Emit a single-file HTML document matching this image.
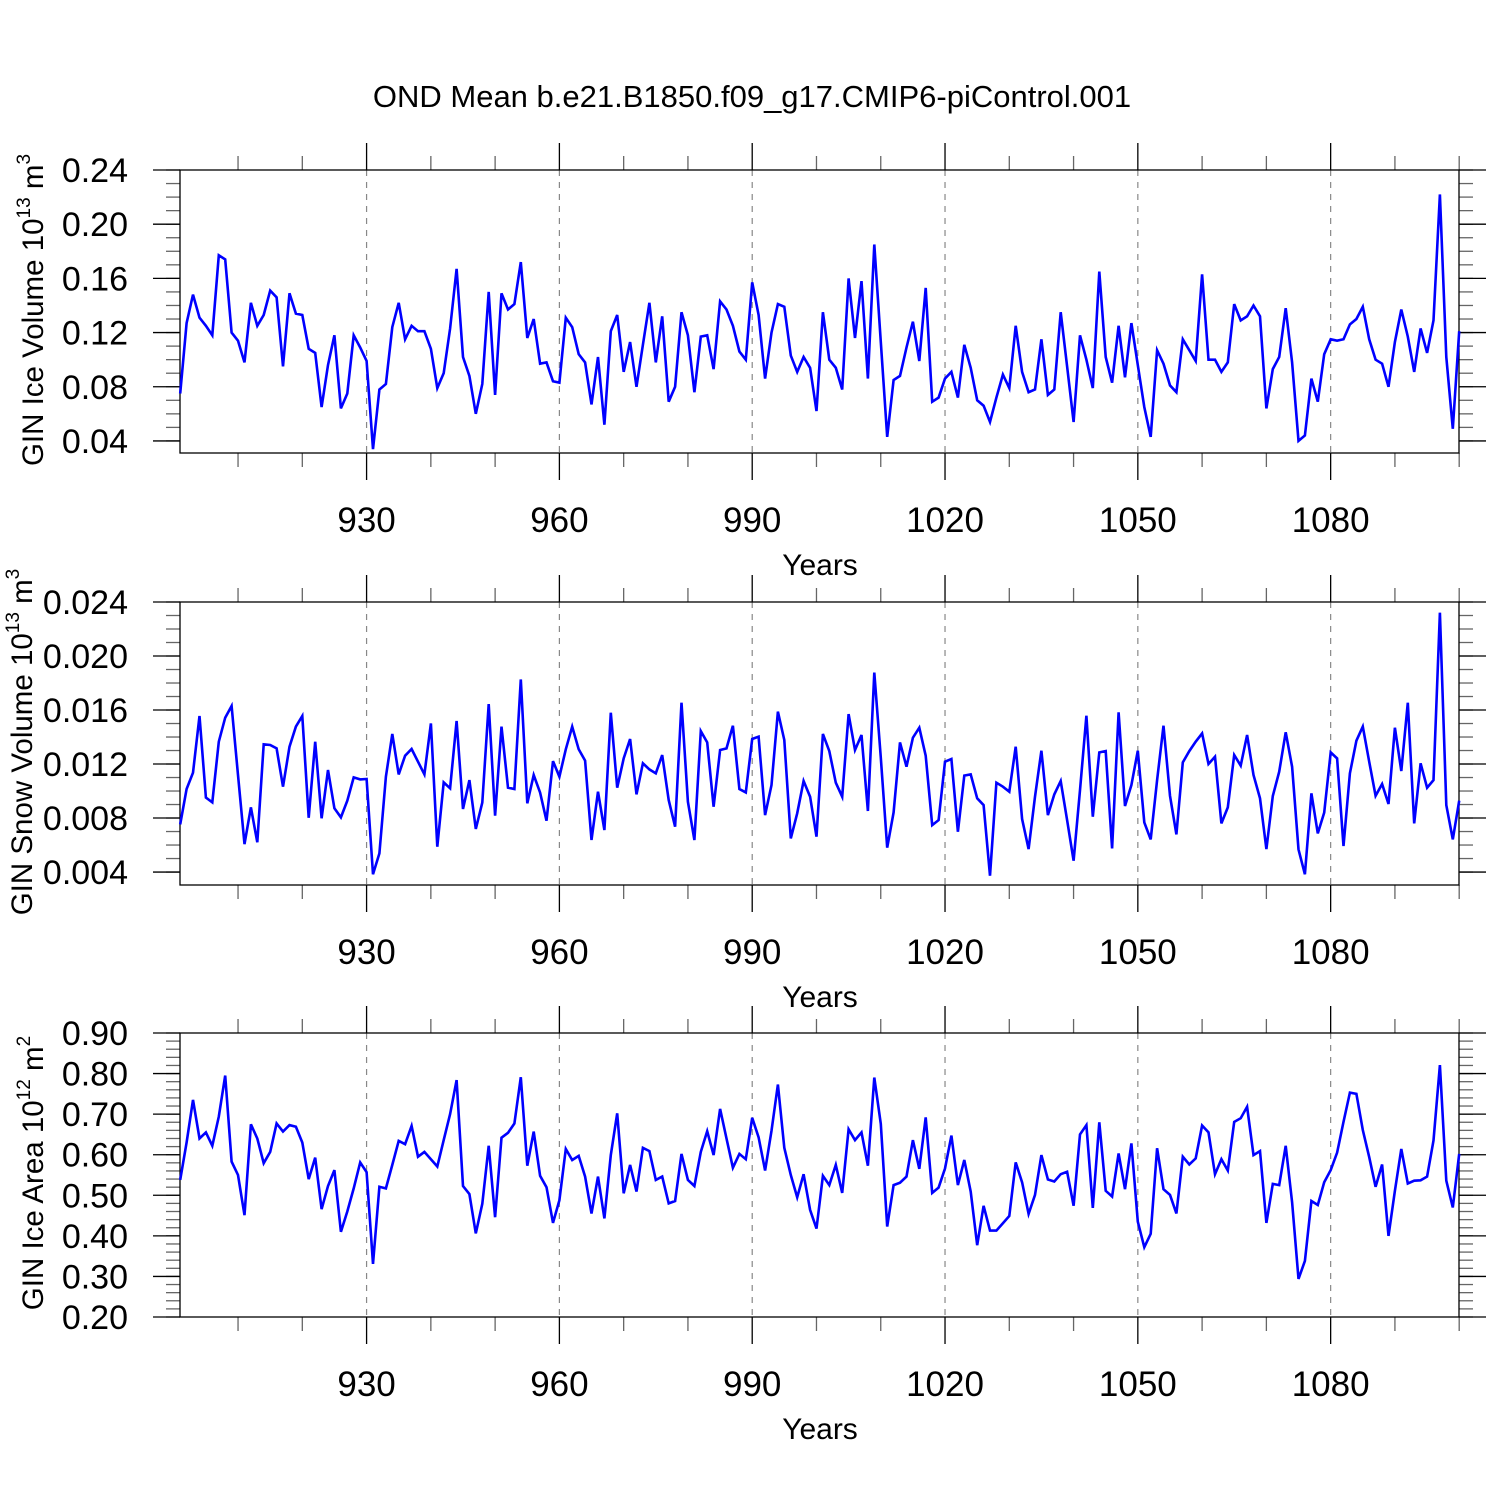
<!DOCTYPE html>
<html><head><meta charset="utf-8"><style>
html,body{margin:0;padding:0;background:#fff;}
svg{display:block;font-family:"Liberation Sans",Helvetica,Arial,sans-serif;}
</style></head><body>
<svg id="chart" width="1500" height="1500" viewBox="0 0 1500 1500" xmlns="http://www.w3.org/2000/svg">
<rect width="1500" height="1500" fill="#fff"/>
<text x="752" y="107" font-size="31" text-anchor="middle" fill="#000">OND Mean b.e21.B1850.f09_g17.CMIP6-piControl.001</text>
</svg>
<script>
const startYear = 901;
const xMajorTicks = [930, 960, 990, 1020, 1050, 1080];
const iceVolume = [0.075,0.127,0.148,0.131,0.125,0.118,0.177,0.174,0.120,0.114,0.098,0.142,0.125,0.133,0.151,0.146,0.095,0.149,0.134,0.133,0.108,0.105,0.065,0.096,0.118,0.064,0.075,0.118,0.109,0.099,0.034,0.078,0.082,0.124,0.142,0.115,0.125,0.121,0.121,0.108,0.079,0.090,0.123,0.167,0.102,0.088,0.060,0.082,0.150,0.074,0.149,0.137,0.141,0.172,0.116,0.130,0.097,0.098,0.084,0.083,0.131,0.124,0.104,0.098,0.067,0.102,0.052,0.121,0.133,0.091,0.113,0.080,0.111,0.142,0.098,0.132,0.069,0.080,0.135,0.118,0.076,0.117,0.118,0.093,0.143,0.137,0.125,0.106,0.100,0.157,0.133,0.086,0.120,0.141,0.139,0.103,0.091,0.102,0.094,0.062,0.135,0.100,0.094,0.078,0.160,0.116,0.158,0.086,0.185,0.113,0.043,0.085,0.088,0.109,0.128,0.099,0.153,0.069,0.072,0.086,0.091,0.072,0.111,0.094,0.070,0.066,0.054,0.072,0.089,0.079,0.125,0.091,0.076,0.078,0.115,0.074,0.078,0.135,0.095,0.054,0.118,0.100,0.079,0.165,0.102,0.083,0.125,0.087,0.127,0.096,0.065,0.043,0.107,0.097,0.081,0.076,0.115,0.107,0.099,0.163,0.100,0.100,0.091,0.098,0.141,0.129,0.132,0.140,0.132,0.064,0.093,0.102,0.138,0.098,0.040,0.044,0.086,0.069,0.104,0.115,0.114,0.115,0.126,0.130,0.139,0.115,0.100,0.097,0.080,0.113,0.137,0.117,0.091,0.123,0.105,0.129,0.222,0.102,0.049,0.121];
const snowVolumeE3 = [7.53,10.15,11.36,15.56,9.51,9.16,13.65,15.43,16.30,11.19,6.07,8.79,6.20,13.46,13.41,13.16,10.32,13.28,14.77,15.56,8.02,13.65,7.98,11.56,8.72,8.05,9.28,11.01,10.86,10.89,3.83,5.38,11.06,14.22,11.23,12.62,13.11,12.17,11.23,15.01,5.88,10.64,10.20,15.19,8.67,10.81,7.19,9.14,16.44,8.17,14.77,10.25,10.15,18.27,9.09,11.19,9.88,7.80,12.22,11.06,13.09,14.77,13.09,12.25,6.37,9.95,7.11,15.80,10.25,12.42,13.85,9.75,12.05,11.60,11.31,12.67,9.33,7.36,16.54,9.21,6.37,14.44,13.60,8.84,13.04,13.16,14.84,10.15,9.90,13.85,14.02,8.22,10.44,15.88,13.78,6.49,8.35,10.74,9.58,6.62,14.22,12.96,10.62,9.58,15.70,13.04,14.15,8.52,18.77,12.47,5.80,8.42,13.60,11.80,13.95,14.69,12.62,7.48,7.85,12.17,12.37,6.99,11.14,11.23,9.46,8.96,3.73,10.62,10.32,9.95,13.28,7.93,5.70,9.58,12.99,8.22,9.75,10.74,7.85,4.84,10.07,15.58,8.10,12.86,12.96,5.75,15.83,8.89,10.44,12.99,7.68,6.42,10.81,14.84,9.65,6.79,12.12,12.96,13.65,14.27,12.00,12.54,7.60,8.79,12.67,11.88,14.15,11.19,9.46,5.70,9.63,11.43,14.35,11.80,5.68,3.83,9.83,6.86,8.40,12.86,12.42,5.93,11.31,13.73,14.77,12.17,9.65,10.52,9.04,14.69,11.48,16.54,7.60,12.05,10.25,10.81,23.21,8.96,6.42,9.28];
const snowVolume = snowVolumeE3.map(v => v / 1000);
const iceArea = [0.538,0.630,0.735,0.640,0.655,0.622,0.694,0.795,0.583,0.550,0.451,0.675,0.640,0.579,0.607,0.677,0.657,0.673,0.669,0.630,0.540,0.593,0.466,0.523,0.562,0.410,0.460,0.517,0.581,0.557,0.331,0.521,0.517,0.575,0.634,0.626,0.671,0.595,0.607,0.589,0.571,0.636,0.700,0.784,0.523,0.503,0.406,0.479,0.622,0.446,0.642,0.654,0.677,0.791,0.573,0.657,0.548,0.520,0.432,0.488,0.614,0.587,0.597,0.546,0.455,0.546,0.443,0.599,0.702,0.505,0.575,0.509,0.617,0.609,0.538,0.546,0.480,0.486,0.602,0.538,0.523,0.607,0.658,0.599,0.713,0.640,0.568,0.602,0.589,0.691,0.643,0.561,0.659,0.773,0.617,0.550,0.495,0.552,0.464,0.418,0.548,0.525,0.575,0.506,0.663,0.636,0.655,0.573,0.790,0.676,0.423,0.525,0.531,0.546,0.636,0.565,0.692,0.506,0.519,0.566,0.647,0.525,0.587,0.509,0.377,0.474,0.413,0.413,0.431,0.449,0.581,0.532,0.454,0.501,0.599,0.539,0.534,0.552,0.558,0.474,0.650,0.673,0.469,0.680,0.511,0.497,0.603,0.515,0.628,0.435,0.372,0.405,0.616,0.515,0.501,0.455,0.595,0.576,0.591,0.672,0.655,0.552,0.589,0.561,0.681,0.690,0.718,0.599,0.609,0.432,0.528,0.525,0.622,0.483,0.294,0.338,0.486,0.476,0.532,0.562,0.605,0.681,0.753,0.750,0.661,0.594,0.521,0.576,0.400,0.511,0.614,0.529,0.536,0.537,0.546,0.635,0.821,0.536,0.470,0.602];
const p1Ticks = ["0.04","0.08","0.12","0.16","0.20","0.24"];
const p2Ticks = ["0.004","0.008","0.012","0.016","0.020","0.024"];
const p3Ticks = ["0.20","0.30","0.40","0.50","0.60","0.70","0.80","0.90"];

const NS = "http://www.w3.org/2000/svg";
const svg = document.getElementById("chart");
const X0 = 180, X1 = 1459, yr0 = startYear - 0.03, yr1 = 1099.97;
function xScale(yr){ return X0 + (yr - yr0) / (yr1 - yr0) * (X1 - X0); }
function mk(tag, attrs, parent){ const e = document.createElementNS(NS, tag); for (const k in attrs) e.setAttribute(k, attrs[k]); (parent||svg).appendChild(e); return e; }

const panels = [
 {key:"ice-volume", data:iceVolume, top:170, bot:453, vmin:0.0311, vmax:0.24, ticks:p1Ticks, minorStep:0.01, minorStart:0.04, title:["GIN Ice Volume 10","13"," m","3"], tx:33, ty:310},
 {key:"snow-volume", data:snowVolume, top:602, bot:885, vmin:0.00304, vmax:0.024, ticks:p2Ticks, minorStep:0.001, minorStart:0.004, title:["GIN Snow Volume 10","13"," m","3"], tx:22, ty:742},
 {key:"ice-area", data:iceArea, top:1033, bot:1317, vmin:0.20, vmax:0.90, ticks:p3Ticks, minorStep:0.02, minorStart:0.20, title:["GIN Ice Area 10","12"," m","2"], tx:33, ty:1173}
];

panels.forEach((p, pi) => {
  const g = mk("g", {});
  
  
  const yS = v => p.bot - (v - p.vmin) / (p.vmax - p.vmin) * (p.bot - p.top);
  xMajorTicks.forEach(t => {
    const l = mk("line", {x1:xScale(t), x2:xScale(t), y1:p.top, y2:p.bot, stroke:"#888", "stroke-width":1.2, "stroke-dasharray":"6,6"}, g);
    
    
  });
  for (let yr = 910; yr <= 1100; yr += 10) {
    const major = xMajorTicks.includes(yr);
    const len = major ? 27 : 14;
    const x = xScale(yr);
    mk("line", {x1:x, x2:x, y1:p.bot, y2:p.bot + len, stroke: major ? "#000" : "#666", "stroke-width":1.3}, g);
    mk("line", {x1:x, x2:x, y1:p.top, y2:p.top - len, stroke: major ? "#000" : "#666", "stroke-width":1.3}, g);
  }
  xMajorTicks.forEach(t => {
    const tl = mk("text", {x:xScale(t), y:p.bot + 79, "font-size":35, "text-anchor":"middle", fill:"#000"}, g);
    tl.textContent = t;
    
    
  });
  const xt = mk("text", {x:820, y:p.bot + 122, "font-size":30, "text-anchor":"middle", fill:"#000"}, g);
  xt.textContent = "Years";
  
  
  const nMin = Math.round((p.vmax - p.minorStart) / p.minorStep);
  for (let k = -2; k <= nMin; k++) {
    const v = p.minorStart + k * p.minorStep;
    if (v < p.vmin - 1e-9 || v > p.vmax + 1e-9) continue;
    const y = yS(v);
    mk("line", {x1:X0 - 14, x2:X0, y1:y, y2:y, stroke:"#666", "stroke-width":1.3}, g);
    mk("line", {x1:X1, x2:X1 + 14, y1:y, y2:y, stroke:"#666", "stroke-width":1.3}, g);
  }
  p.ticks.forEach(t => {
    const y = yS(parseFloat(t));
    mk("line", {x1:X0 - 27, x2:X0, y1:y, y2:y, stroke:"#000", "stroke-width":1.3}, g);
    mk("line", {x1:X1, x2:X1 + 27, y1:y, y2:y, stroke:"#000", "stroke-width":1.3}, g);
    const tl = mk("text", {x:128, y:y + 12, "font-size":34, "text-anchor":"end", fill:"#000"}, g);
    tl.textContent = t;
    
    
  });
  const fr = mk("rect", {x:X0, y:p.top, width:X1 - X0, height:p.bot - p.top, fill:"none", stroke:"#000", "stroke-width":1.3}, g);
  
  
  const pts = p.data.map((v, i) => xScale(startYear + i).toFixed(1) + "," + yS(v).toFixed(1)).join(" ");
  const pl = mk("polyline", {points:pts, fill:"none", stroke:"#0000ff", "stroke-width":2.6, "stroke-linejoin":"miter"}, g);
  
  
  const yt = mk("text", {x:0, y:0, "font-size":29.5, "text-anchor":"middle", fill:"#000", transform:"translate(" + (p.tx + 10) + "," + p.ty + ") rotate(-90)"}, g);
  
  
  const a = mk("tspan", {}, yt); a.textContent = p.title[0];
  const b = mk("tspan", {dy:-13, "font-size":19}, yt); b.textContent = p.title[1];
  const c = mk("tspan", {dy:13}, yt); c.textContent = p.title[2];
  const d = mk("tspan", {dy:-13, "font-size":19}, yt); d.textContent = p.title[3];
});
</script>
</body></html>
